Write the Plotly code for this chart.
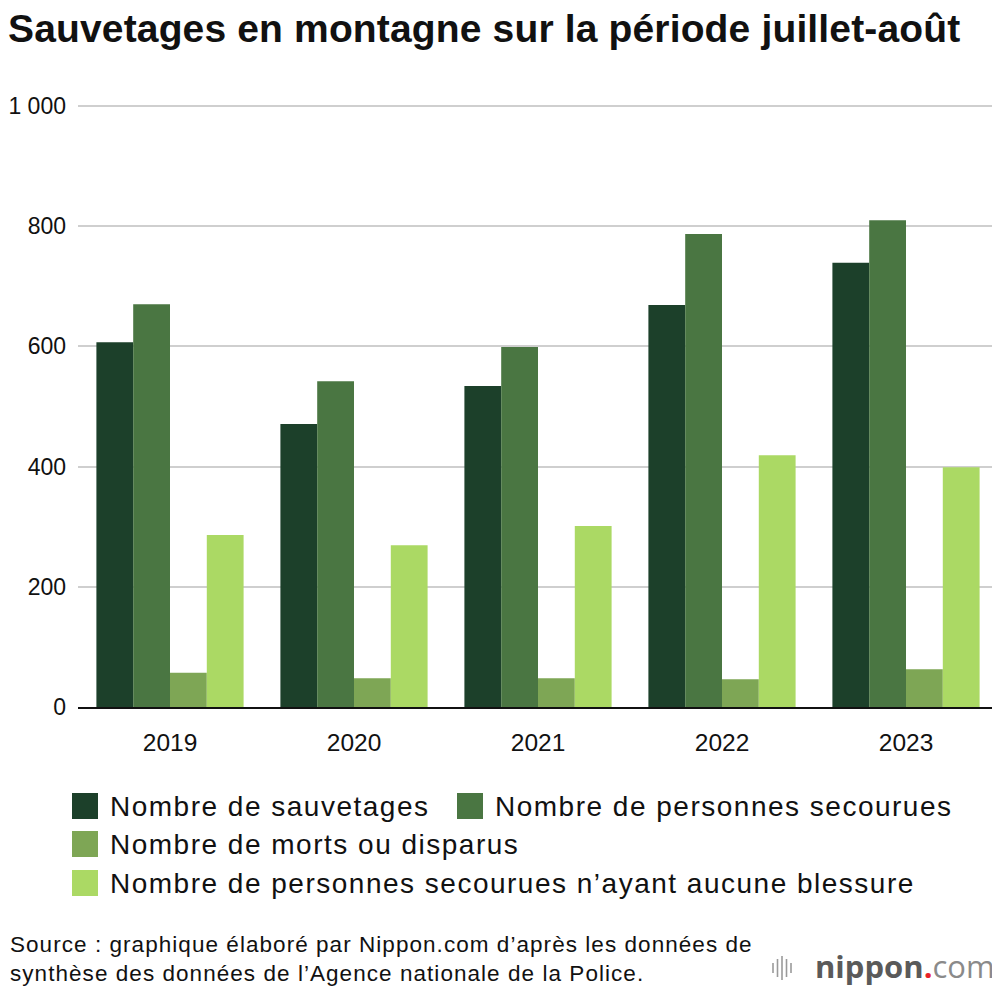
import plotly.graph_objects as go

years = ["2019", "2020", "2021", "2022", "2023"]
sauvetages = [607, 471, 534, 669, 739]
personnes_secourues = [670, 542, 599, 787, 810]
morts_disparus = [57, 48, 48, 46, 63]
sans_blessure = [286, 269, 301, 419, 399]

series_names = [
    "Nombre de sauvetages",
    "Nombre de personnes secourues",
    "Nombre de morts ou disparus",
    "Nombre de personnes secourues n’ayant aucune blessure",
]
series_values = [sauvetages, personnes_secourues, morts_disparus, sans_blessure]
colors = ["#1c402a", "#4a7642", "#7ea655", "#abd964"]

y_tickvals = [0, 200, 400, 600, 800, 1000]
y_ticktext = ["0", "200", "400", "600", "800", "1 000"]

# page body has an 8px margin: figure coordinates = reference coordinates - 8
OFF = 8
W, H = 1000 - OFF, 990 - OFF
L, R, T, B = 78 - OFF, 2, 100 - OFF, 990 - 707
PW, PH = W - L - R, H - T - B

def px(x):  # reference pixel x -> paper
    return (x - OFF - L) / PW

def py(y):  # reference pixel y -> paper
    return (H - B - (y - OFF)) / PH

FONT = "Liberation Sans, Arial, Helvetica, sans-serif"

def spaced(text, ls):
    return f"<span style='letter-spacing:{ls}px'>{text}</span>"

fig = go.Figure()
for name, vals, col in zip(series_names, series_values, colors):
    fig.add_trace(go.Bar(x=years, y=vals, name=name, marker=dict(color=col, line=dict(width=0)),
                         showlegend=False))

fig.update_layout(
    width=W, height=H,
    margin=dict(l=L, r=R, t=T, b=B, autoexpand=False),
    paper_bgcolor="white", plot_bgcolor="white",
    barmode="group", bargap=0.2, bargroupgap=0,
    font=dict(family=FONT, color="#111111"),
    title=dict(text="<b>" + spaced("Sauvetages en montagne sur la période juillet-août", 0.15) + "</b>",
               x=0, xanchor="left", y=1 - (28 - OFF) / H, yanchor="middle",
               font=dict(size=39, family=FONT, color="#111111")),
    xaxis=dict(showgrid=False, showline=True, linecolor="#111111", linewidth=2,
               ticks="", tickfont=dict(size=24.5, family=FONT, color="#111111"),
               ticklabelstandoff=13, automargin=False, fixedrange=True),
    yaxis=dict(range=[0, 1010], tickvals=y_tickvals, ticktext=y_ticktext,
               showgrid=True, gridcolor="#cfcfcf", gridwidth=2, zeroline=False,
               showline=False, ticks="", tickfont=dict(size=23, family=FONT, color="#111111"),
               ticklabelstandoff=11, automargin=False, fixedrange=True),
)

shapes = []
annotations = []
# manual legend
legend_pos = [(72, 806), (457, 806), (72, 844), (72, 883)]
for (x0, yc), name, col in zip(legend_pos, series_names, colors):
    shapes.append(dict(type="rect", xref="paper", yref="paper",
                       x0=px(x0), x1=px(x0 + 26), y0=py(yc + 13), y1=py(yc - 13),
                       fillcolor=col, line=dict(width=0)))
    annotations.append(dict(text=spaced(name, 1.5), xref="paper", yref="paper",
                            x=px(x0 + 36), y=py(yc),
                            xanchor="left", yanchor="middle", showarrow=False,
                            font=dict(size=28, family=FONT, color="#111111")))

# source
annotations.append(dict(
    text=spaced("Source : graphique élaboré par Nippon.com d’après les données de", 1.05)
    + "<br>" + spaced("synthèse des données de l’Agence nationale de la Police.", 1.05),
    xref="paper", yref="paper", x=px(8), y=py(959), xanchor="left", yanchor="middle",
    align="left", showarrow=False, font=dict(size=22.5, family=FONT, color="#111111")))

# logo
annotations.append(dict(
    text="<b>nippon</b><span style='color:#e8232a'><b>.</b></span><span style='color:#8a8a8a'>com</span>",
    xref="paper", yref="paper", x=px(997), y=py(966), xanchor="right", yanchor="middle",
    showarrow=False, font=dict(size=31, family="Open Sans, Liberation Sans, sans-serif", color="#5a5a5a")))
bar_heights = [10, 18, 24, 18, 10]
for i, hgt in enumerate(bar_heights):
    xx = 773 + i * 4.5
    shapes.append(dict(type="line", xref="paper", yref="paper",
                       x0=px(xx), x1=px(xx), y0=py(968 - hgt / 2), y1=py(968 + hgt / 2),
                       line=dict(color="#9a9a9a", width=1.6)))

fig.update_layout(shapes=shapes, annotations=annotations)
fig.write_html("out.html")
